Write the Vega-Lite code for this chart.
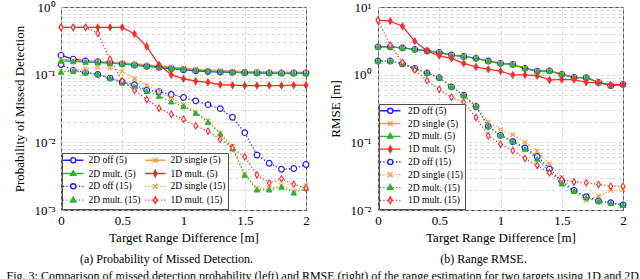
{
"$schema":"https://vega.github.io/schema/vega-lite/v6.json",
"background":"white",
"padding":{"left":6,"top":0,"right":5,"bottom":0},
"spacing":16,
"resolve":{"scale":{"stroke":"independent","fill":"independent","shape":"independent"},"legend":{"stroke":"independent","fill":"independent","shape":"independent"}},
"title":{"text":"Fig. 3: Comparison of missed detection probability (left) and RMSE (right) of the range estimation for two targets using 1D and 2D processing, based on","orient":"bottom","anchor":"start","fontSize":12,"offset":5,"dx":-6},
"config":{
 "font":"Liberation Serif",
 "view":{"stroke":"#505050","strokeWidth":1},
 "axis":{"labelFont":"Liberation Serif","titleFont":"Liberation Serif","labelFontSize":13,"titleFontSize":13,"titleFontWeight":"normal","labelColor":"black","titleColor":"black","gridColor":"#cccccc","gridDash":[3,3],"gridWidth":0.8,"domain":false,"ticks":false,"labelFlush":false,"labelOverlap":false,"labelBound":false},
 "legend":{"labelFont":"Liberation Serif","labelFontSize":9.5,"labelColor":"black","fillColor":"white","strokeColor":"#505050","padding":2,"rowPadding":0.8,"columnPadding":1,"symbolStrokeWidth":1.4,"cornerRadius":0,"symbolOpacity":1,"labelLimit":200},
 "title":{"font":"Liberation Serif","fontWeight":"normal","fontSize":12,"color":"black"}
},
"datasets":{
"pmd":[
{"x":0,"s":"2D off (5)","v":0.193},{"x":0.1,"s":"2D off (5)","v":0.170},{"x":0.2,"s":"2D off (5)","v":0.160},{"x":0.3,"s":"2D off (5)","v":0.155},{"x":0.4,"s":"2D off (5)","v":0.150},{"x":0.5,"s":"2D off (5)","v":0.144},{"x":0.6,"s":"2D off (5)","v":0.139},{"x":0.7,"s":"2D off (5)","v":0.133},{"x":0.8,"s":"2D off (5)","v":0.128},{"x":0.9,"s":"2D off (5)","v":0.123},{"x":1,"s":"2D off (5)","v":0.118},{"x":1.1,"s":"2D off (5)","v":0.114},{"x":1.2,"s":"2D off (5)","v":0.111},{"x":1.3,"s":"2D off (5)","v":0.109},{"x":1.4,"s":"2D off (5)","v":0.108},{"x":1.5,"s":"2D off (5)","v":0.107},{"x":1.6,"s":"2D off (5)","v":0.106},{"x":1.7,"s":"2D off (5)","v":0.106},{"x":1.8,"s":"2D off (5)","v":0.106},{"x":1.9,"s":"2D off (5)","v":0.106},{"x":2,"s":"2D off (5)","v":0.106},
{"x":0,"s":"2D single (5)","v":0.168},{"x":0.1,"s":"2D single (5)","v":0.163},{"x":0.2,"s":"2D single (5)","v":0.159},{"x":0.3,"s":"2D single (5)","v":0.156},{"x":0.4,"s":"2D single (5)","v":0.153},{"x":0.5,"s":"2D single (5)","v":0.149},{"x":0.6,"s":"2D single (5)","v":0.145},{"x":0.7,"s":"2D single (5)","v":0.140},{"x":0.8,"s":"2D single (5)","v":0.135},{"x":0.9,"s":"2D single (5)","v":0.130},{"x":1,"s":"2D single (5)","v":0.125},{"x":1.1,"s":"2D single (5)","v":0.121},{"x":1.2,"s":"2D single (5)","v":0.118},{"x":1.3,"s":"2D single (5)","v":0.116},{"x":1.4,"s":"2D single (5)","v":0.114},{"x":1.5,"s":"2D single (5)","v":0.112},{"x":1.6,"s":"2D single (5)","v":0.111},{"x":1.7,"s":"2D single (5)","v":0.110},{"x":1.8,"s":"2D single (5)","v":0.109},{"x":1.9,"s":"2D single (5)","v":0.109},{"x":2,"s":"2D single (5)","v":0.109},
{"x":0,"s":"2D mult. (5)","v":0.160},{"x":0.1,"s":"2D mult. (5)","v":0.157},{"x":0.2,"s":"2D mult. (5)","v":0.154},{"x":0.3,"s":"2D mult. (5)","v":0.151},{"x":0.4,"s":"2D mult. (5)","v":0.148},{"x":0.5,"s":"2D mult. (5)","v":0.144},{"x":0.6,"s":"2D mult. (5)","v":0.140},{"x":0.7,"s":"2D mult. (5)","v":0.135},{"x":0.8,"s":"2D mult. (5)","v":0.130},{"x":0.9,"s":"2D mult. (5)","v":0.125},{"x":1,"s":"2D mult. (5)","v":0.120},{"x":1.1,"s":"2D mult. (5)","v":0.116},{"x":1.2,"s":"2D mult. (5)","v":0.113},{"x":1.3,"s":"2D mult. (5)","v":0.111},{"x":1.4,"s":"2D mult. (5)","v":0.109},{"x":1.5,"s":"2D mult. (5)","v":0.107},{"x":1.6,"s":"2D mult. (5)","v":0.106},{"x":1.7,"s":"2D mult. (5)","v":0.105},{"x":1.8,"s":"2D mult. (5)","v":0.104},{"x":1.9,"s":"2D mult. (5)","v":0.104},{"x":2,"s":"2D mult. (5)","v":0.104},
{"x":0,"s":"1D mult. (5)","v":0.50},{"x":0.1,"s":"1D mult. (5)","v":0.50},{"x":0.2,"s":"1D mult. (5)","v":0.50},{"x":0.3,"s":"1D mult. (5)","v":0.50},{"x":0.4,"s":"1D mult. (5)","v":0.50},{"x":0.5,"s":"1D mult. (5)","v":0.50},{"x":0.6,"s":"1D mult. (5)","v":0.40},{"x":0.7,"s":"1D mult. (5)","v":0.26},{"x":0.8,"s":"1D mult. (5)","v":0.14},{"x":0.9,"s":"1D mult. (5)","v":0.10},{"x":1,"s":"1D mult. (5)","v":0.087},{"x":1.1,"s":"1D mult. (5)","v":0.080},{"x":1.2,"s":"1D mult. (5)","v":0.077},{"x":1.3,"s":"1D mult. (5)","v":0.071},{"x":1.4,"s":"1D mult. (5)","v":0.070},{"x":1.5,"s":"1D mult. (5)","v":0.069},{"x":1.6,"s":"1D mult. (5)","v":0.069},{"x":1.7,"s":"1D mult. (5)","v":0.069},{"x":1.8,"s":"1D mult. (5)","v":0.069},{"x":1.9,"s":"1D mult. (5)","v":0.070},{"x":2,"s":"1D mult. (5)","v":0.070},
{"x":0,"s":"2D off (15)","v":0.141},{"x":0.1,"s":"2D off (15)","v":0.116},{"x":0.2,"s":"2D off (15)","v":0.108},{"x":0.3,"s":"2D off (15)","v":0.101},{"x":0.4,"s":"2D off (15)","v":0.089},{"x":0.5,"s":"2D off (15)","v":0.078},{"x":0.6,"s":"2D off (15)","v":0.071},{"x":0.7,"s":"2D off (15)","v":0.059},{"x":0.8,"s":"2D off (15)","v":0.056},{"x":0.9,"s":"2D off (15)","v":0.051},{"x":1,"s":"2D off (15)","v":0.046},{"x":1.1,"s":"2D off (15)","v":0.041},{"x":1.2,"s":"2D off (15)","v":0.036},{"x":1.3,"s":"2D off (15)","v":0.0315},{"x":1.4,"s":"2D off (15)","v":0.0235},{"x":1.5,"s":"2D off (15)","v":0.0139},{"x":1.6,"s":"2D off (15)","v":0.0065},{"x":1.7,"s":"2D off (15)","v":0.0049},{"x":1.8,"s":"2D off (15)","v":0.0040},{"x":1.9,"s":"2D off (15)","v":0.0041},{"x":2,"s":"2D off (15)","v":0.0047},
{"x":0,"s":"2D single (15)","v":0.113},{"x":0.1,"s":"2D single (15)","v":0.115},{"x":0.2,"s":"2D single (15)","v":0.123},{"x":0.3,"s":"2D single (15)","v":0.127},{"x":0.4,"s":"2D single (15)","v":0.125},{"x":0.5,"s":"2D single (15)","v":0.112},{"x":0.6,"s":"2D single (15)","v":0.087},{"x":0.7,"s":"2D single (15)","v":0.070},{"x":0.8,"s":"2D single (15)","v":0.057},{"x":0.9,"s":"2D single (15)","v":0.046},{"x":1,"s":"2D single (15)","v":0.036},{"x":1.1,"s":"2D single (15)","v":0.028},{"x":1.2,"s":"2D single (15)","v":0.021},{"x":1.3,"s":"2D single (15)","v":0.0138},{"x":1.4,"s":"2D single (15)","v":0.0088},{"x":1.5,"s":"2D single (15)","v":0.0034},{"x":1.6,"s":"2D single (15)","v":0.0021},{"x":1.7,"s":"2D single (15)","v":0.0021},{"x":1.8,"s":"2D single (15)","v":0.0023},{"x":1.9,"s":"2D single (15)","v":0.0019},{"x":2,"s":"2D single (15)","v":0.0023},
{"x":0,"s":"2D mult. (15)","v":0.110},{"x":0.1,"s":"2D mult. (15)","v":0.113},{"x":0.2,"s":"2D mult. (15)","v":0.107},{"x":0.3,"s":"2D mult. (15)","v":0.101},{"x":0.4,"s":"2D mult. (15)","v":0.089},{"x":0.5,"s":"2D mult. (15)","v":0.076},{"x":0.6,"s":"2D mult. (15)","v":0.067},{"x":0.7,"s":"2D mult. (15)","v":0.057},{"x":0.8,"s":"2D mult. (15)","v":0.0485},{"x":0.9,"s":"2D mult. (15)","v":0.040},{"x":1,"s":"2D mult. (15)","v":0.034},{"x":1.1,"s":"2D mult. (15)","v":0.0272},{"x":1.2,"s":"2D mult. (15)","v":0.020},{"x":1.3,"s":"2D mult. (15)","v":0.0134},{"x":1.4,"s":"2D mult. (15)","v":0.0081},{"x":1.5,"s":"2D mult. (15)","v":0.0033},{"x":1.6,"s":"2D mult. (15)","v":0.0020},{"x":1.7,"s":"2D mult. (15)","v":0.0020},{"x":1.8,"s":"2D mult. (15)","v":0.0022},{"x":1.9,"s":"2D mult. (15)","v":0.0018},{"x":2,"s":"2D mult. (15)","v":0.0021},
{"x":0,"s":"1D mult. (15)","v":0.50},{"x":0.1,"s":"1D mult. (15)","v":0.50},{"x":0.2,"s":"1D mult. (15)","v":0.50},{"x":0.3,"s":"1D mult. (15)","v":0.41},{"x":0.4,"s":"1D mult. (15)","v":0.169},{"x":0.5,"s":"1D mult. (15)","v":0.081},{"x":0.6,"s":"1D mult. (15)","v":0.059},{"x":0.7,"s":"1D mult. (15)","v":0.043},{"x":0.8,"s":"1D mult. (15)","v":0.032},{"x":0.9,"s":"1D mult. (15)","v":0.026},{"x":1,"s":"1D mult. (15)","v":0.022},{"x":1.1,"s":"1D mult. (15)","v":0.0175},{"x":1.2,"s":"1D mult. (15)","v":0.0146},{"x":1.3,"s":"1D mult. (15)","v":0.0111},{"x":1.4,"s":"1D mult. (15)","v":0.0083},{"x":1.5,"s":"1D mult. (15)","v":0.0061},{"x":1.6,"s":"1D mult. (15)","v":0.0033},{"x":1.7,"s":"1D mult. (15)","v":0.0025},{"x":1.8,"s":"1D mult. (15)","v":0.0029},{"x":1.9,"s":"1D mult. (15)","v":0.0024},{"x":2,"s":"1D mult. (15)","v":0.0021}
],
"rmse":[
{"x":0,"s":"2D off (5)","v":2.58},{"x":0.1,"s":"2D off (5)","v":2.58},{"x":0.2,"s":"2D off (5)","v":2.49},{"x":0.3,"s":"2D off (5)","v":2.36},{"x":0.4,"s":"2D off (5)","v":2.25},{"x":0.5,"s":"2D off (5)","v":2.13},{"x":0.6,"s":"2D off (5)","v":1.95},{"x":0.7,"s":"2D off (5)","v":1.86},{"x":0.8,"s":"2D off (5)","v":1.74},{"x":0.9,"s":"2D off (5)","v":1.59},{"x":1,"s":"2D off (5)","v":1.47},{"x":1.1,"s":"2D off (5)","v":1.42},{"x":1.2,"s":"2D off (5)","v":1.24},{"x":1.3,"s":"2D off (5)","v":1.13},{"x":1.4,"s":"2D off (5)","v":1.14},{"x":1.5,"s":"2D off (5)","v":1.01},{"x":1.6,"s":"2D off (5)","v":0.91},{"x":1.7,"s":"2D off (5)","v":0.90},{"x":1.8,"s":"2D off (5)","v":0.77},{"x":1.9,"s":"2D off (5)","v":0.69},{"x":2,"s":"2D off (5)","v":0.72},
{"x":0,"s":"2D single (5)","v":2.58},{"x":0.1,"s":"2D single (5)","v":2.58},{"x":0.2,"s":"2D single (5)","v":2.49},{"x":0.3,"s":"2D single (5)","v":2.36},{"x":0.4,"s":"2D single (5)","v":2.25},{"x":0.5,"s":"2D single (5)","v":2.13},{"x":0.6,"s":"2D single (5)","v":1.95},{"x":0.7,"s":"2D single (5)","v":1.86},{"x":0.8,"s":"2D single (5)","v":1.74},{"x":0.9,"s":"2D single (5)","v":1.59},{"x":1,"s":"2D single (5)","v":1.47},{"x":1.1,"s":"2D single (5)","v":1.42},{"x":1.2,"s":"2D single (5)","v":1.24},{"x":1.3,"s":"2D single (5)","v":1.13},{"x":1.4,"s":"2D single (5)","v":1.14},{"x":1.5,"s":"2D single (5)","v":1.01},{"x":1.6,"s":"2D single (5)","v":0.91},{"x":1.7,"s":"2D single (5)","v":0.90},{"x":1.8,"s":"2D single (5)","v":0.77},{"x":1.9,"s":"2D single (5)","v":0.69},{"x":2,"s":"2D single (5)","v":0.72},
{"x":0,"s":"2D mult. (5)","v":2.58},{"x":0.1,"s":"2D mult. (5)","v":2.58},{"x":0.2,"s":"2D mult. (5)","v":2.49},{"x":0.3,"s":"2D mult. (5)","v":2.36},{"x":0.4,"s":"2D mult. (5)","v":2.25},{"x":0.5,"s":"2D mult. (5)","v":2.13},{"x":0.6,"s":"2D mult. (5)","v":1.95},{"x":0.7,"s":"2D mult. (5)","v":1.86},{"x":0.8,"s":"2D mult. (5)","v":1.74},{"x":0.9,"s":"2D mult. (5)","v":1.59},{"x":1,"s":"2D mult. (5)","v":1.47},{"x":1.1,"s":"2D mult. (5)","v":1.42},{"x":1.2,"s":"2D mult. (5)","v":1.24},{"x":1.3,"s":"2D mult. (5)","v":1.13},{"x":1.4,"s":"2D mult. (5)","v":1.14},{"x":1.5,"s":"2D mult. (5)","v":1.01},{"x":1.6,"s":"2D mult. (5)","v":0.91},{"x":1.7,"s":"2D mult. (5)","v":0.90},{"x":1.8,"s":"2D mult. (5)","v":0.77},{"x":1.9,"s":"2D mult. (5)","v":0.69},{"x":2,"s":"2D mult. (5)","v":0.72},
{"x":0,"s":"1D mult. (5)","v":6.37},{"x":0.1,"s":"1D mult. (5)","v":6.2},{"x":0.2,"s":"1D mult. (5)","v":5.2},{"x":0.3,"s":"1D mult. (5)","v":3.13},{"x":0.4,"s":"1D mult. (5)","v":2.25},{"x":0.5,"s":"1D mult. (5)","v":1.90},{"x":0.6,"s":"1D mult. (5)","v":1.74},{"x":0.7,"s":"1D mult. (5)","v":1.47},{"x":0.8,"s":"1D mult. (5)","v":1.30},{"x":0.9,"s":"1D mult. (5)","v":1.20},{"x":1,"s":"1D mult. (5)","v":1.13},{"x":1.1,"s":"1D mult. (5)","v":0.99},{"x":1.2,"s":"1D mult. (5)","v":0.99},{"x":1.3,"s":"1D mult. (5)","v":0.967},{"x":1.4,"s":"1D mult. (5)","v":0.835},{"x":1.5,"s":"1D mult. (5)","v":0.845},{"x":1.6,"s":"1D mult. (5)","v":0.845},{"x":1.7,"s":"1D mult. (5)","v":0.77},{"x":1.8,"s":"1D mult. (5)","v":0.76},{"x":1.9,"s":"1D mult. (5)","v":0.71},{"x":2,"s":"1D mult. (5)","v":0.71},
{"x":0,"s":"2D off (15)","v":1.59},{"x":0.1,"s":"2D off (15)","v":1.59},{"x":0.2,"s":"2D off (15)","v":1.45},{"x":0.3,"s":"2D off (15)","v":1.24},{"x":0.4,"s":"2D off (15)","v":1.06},{"x":0.5,"s":"2D off (15)","v":0.904},{"x":0.6,"s":"2D off (15)","v":0.66},{"x":0.7,"s":"2D off (15)","v":0.497},{"x":0.8,"s":"2D off (15)","v":0.339},{"x":0.9,"s":"2D off (15)","v":0.172},{"x":1,"s":"2D off (15)","v":0.127},{"x":1.1,"s":"2D off (15)","v":0.103},{"x":1.2,"s":"2D off (15)","v":0.0825},{"x":1.3,"s":"2D off (15)","v":0.062},{"x":1.4,"s":"2D off (15)","v":0.0405},{"x":1.5,"s":"2D off (15)","v":0.0267},{"x":1.6,"s":"2D off (15)","v":0.0195},{"x":1.7,"s":"2D off (15)","v":0.0157},{"x":1.8,"s":"2D off (15)","v":0.0136},{"x":1.9,"s":"2D off (15)","v":0.0128},{"x":2,"s":"2D off (15)","v":0.0119},
{"x":0,"s":"2D single (15)","v":1.59},{"x":0.1,"s":"2D single (15)","v":1.59},{"x":0.2,"s":"2D single (15)","v":1.45},{"x":0.3,"s":"2D single (15)","v":1.24},{"x":0.4,"s":"2D single (15)","v":1.06},{"x":0.5,"s":"2D single (15)","v":0.904},{"x":0.6,"s":"2D single (15)","v":0.66},{"x":0.7,"s":"2D single (15)","v":0.497},{"x":0.8,"s":"2D single (15)","v":0.35},{"x":0.9,"s":"2D single (15)","v":0.2},{"x":1,"s":"2D single (15)","v":0.155},{"x":1.1,"s":"2D single (15)","v":0.130},{"x":1.2,"s":"2D single (15)","v":0.101},{"x":1.3,"s":"2D single (15)","v":0.0738},{"x":1.4,"s":"2D single (15)","v":0.048},{"x":1.5,"s":"2D single (15)","v":0.0306},{"x":1.6,"s":"2D single (15)","v":0.0184},{"x":1.7,"s":"2D single (15)","v":0.0139},{"x":1.8,"s":"2D single (15)","v":0.0161},{"x":1.9,"s":"2D single (15)","v":0.0195},{"x":2,"s":"2D single (15)","v":0.0201},
{"x":0,"s":"2D mult. (15)","v":1.59},{"x":0.1,"s":"2D mult. (15)","v":1.59},{"x":0.2,"s":"2D mult. (15)","v":1.45},{"x":0.3,"s":"2D mult. (15)","v":1.24},{"x":0.4,"s":"2D mult. (15)","v":1.06},{"x":0.5,"s":"2D mult. (15)","v":0.904},{"x":0.6,"s":"2D mult. (15)","v":0.66},{"x":0.7,"s":"2D mult. (15)","v":0.497},{"x":0.8,"s":"2D mult. (15)","v":0.339},{"x":0.9,"s":"2D mult. (15)","v":0.172},{"x":1,"s":"2D mult. (15)","v":0.127},{"x":1.1,"s":"2D mult. (15)","v":0.103},{"x":1.2,"s":"2D mult. (15)","v":0.080},{"x":1.3,"s":"2D mult. (15)","v":0.057},{"x":1.4,"s":"2D mult. (15)","v":0.037},{"x":1.5,"s":"2D mult. (15)","v":0.0245},{"x":1.6,"s":"2D mult. (15)","v":0.019},{"x":1.7,"s":"2D mult. (15)","v":0.0152},{"x":1.8,"s":"2D mult. (15)","v":0.0135},{"x":1.9,"s":"2D mult. (15)","v":0.0127},{"x":2,"s":"2D mult. (15)","v":0.0118},
{"x":0,"s":"1D mult. (15)","v":6.37},{"x":0.1,"s":"1D mult. (15)","v":2.73},{"x":0.2,"s":"1D mult. (15)","v":1.52},{"x":0.3,"s":"1D mult. (15)","v":1.17},{"x":0.4,"s":"1D mult. (15)","v":0.817},{"x":0.5,"s":"1D mult. (15)","v":0.61},{"x":0.6,"s":"1D mult. (15)","v":0.464},{"x":0.7,"s":"1D mult. (15)","v":0.392},{"x":0.8,"s":"1D mult. (15)","v":0.233},{"x":0.9,"s":"1D mult. (15)","v":0.125},{"x":1,"s":"1D mult. (15)","v":0.094},{"x":1.1,"s":"1D mult. (15)","v":0.0756},{"x":1.2,"s":"1D mult. (15)","v":0.0576},{"x":1.3,"s":"1D mult. (15)","v":0.0454},{"x":1.4,"s":"1D mult. (15)","v":0.0354},{"x":1.5,"s":"1D mult. (15)","v":0.0283},{"x":1.6,"s":"1D mult. (15)","v":0.026},{"x":1.7,"s":"1D mult. (15)","v":0.0252},{"x":1.8,"s":"1D mult. (15)","v":0.0239},{"x":1.9,"s":"1D mult. (15)","v":0.0225},{"x":2,"s":"1D mult. (15)","v":0.0225}
]
},
"hconcat":[
{
 "width":245,"height":203,
 "data":{"name":"pmd"},
 "title":{"text":"(a) Probability of Missed Detection.","orient":"bottom","frame":"group","anchor":"middle","dx":-17,"offset":10},
 "encoding":{
  "x":{"field":"x","type":"quantitative","scale":{"domain":[0,2],"nice":false,"zero":false},"axis":{"title":"Target Range Difference [m]","values":[0,0.5,1,1.5,2],"format":"~g","labelPadding":4,"titlePadding":4}},
  "y":{"field":"v","type":"quantitative","scale":{"type":"log","domain":[0.001,1],"nice":false},"axis":{"title":"Probability of Missed Detection","values":[0.001,0.002,0.003,0.004,0.005,0.006,0.007,0.008,0.009,0.01,0.02,0.03,0.04,0.05,0.06,0.07,0.08,0.09,0.1,0.2,0.3,0.4,0.5,0.6,0.7,0.8,0.9,1],"labelExpr":"abs(log(datum.value)/LN10 - round(log(datum.value)/LN10)) < 0.0001 ? '10' + replace(replace(replace(replace(replace(replace('' + round(log(datum.value)/LN10), '-', '⁻'), '0', '⁰'), '1', '¹'), '2', '²'), '3', '³'), '4', '⁴') : ''","labelPadding":6,"titlePadding":8}}
 },
 "layer":[
  {"transform":[{"filter":{"field":"s","oneOf":["2D off (5)","2D single (5)","2D mult. (5)","1D mult. (5)"]}}],"mark":{"type":"line","strokeWidth":1.3},"encoding":{
    "stroke":{"field":"s","type":"nominal","scale":{"domain":["2D off (5)","2D single (5)","2D mult. (5)","1D mult. (5)","2D off (15)","2D single (15)","2D mult. (15)","1D mult. (15)"],"range":["#2020ff","#ff9a3c","#30b030","#ff2a2a","#2020ff","#ff9a3c","#30b030","#ff2a2a"]}}}},
  {"transform":[{"filter":{"field":"s","oneOf":["2D off (15)","2D single (15)","2D mult. (15)","1D mult. (15)"]}}],"mark":{"type":"line","strokeWidth":1.3,"strokeDash":[1.2,2.2]},"encoding":{
    "stroke":{"field":"s","type":"nominal"}}},
  {"transform":[{"filter":{"field":"s","oneOf":["2D off (5)","2D off (15)"]}}],"mark":{"type":"point","shape":"circle","size":32,"strokeWidth":1.2,"opacity":1},"encoding":{
    "stroke":{"field":"s","type":"nominal"},
    "fill":{"field":"s","type":"nominal","scale":{"domain":["2D off (5)","2D single (5)","2D mult. (5)","1D mult. (5)","2D off (15)","2D single (15)","2D mult. (15)","1D mult. (15)"],"range":["white","#ff9a3c","#30b030","#ff2a2a","white","#ff9a3c","#30b030","white"]}}}},
  {"transform":[{"filter":{"field":"s","oneOf":["2D single (5)","2D single (15)"]}}],"mark":{"type":"point","shape":"M-1,-1L1,1M-1,1L1,-1","size":20,"strokeWidth":1.2,"opacity":1},"encoding":{
    "stroke":{"field":"s","type":"nominal"},
    "fill":{"field":"s","type":"nominal"}}},
  {"transform":[{"filter":{"field":"s","oneOf":["2D mult. (5)","2D mult. (15)"]}}],"mark":{"type":"point","shape":"triangle-up","size":30,"strokeWidth":1,"opacity":1},"encoding":{
    "stroke":{"field":"s","type":"nominal"},
    "fill":{"field":"s","type":"nominal"}}},
  {"transform":[{"filter":{"field":"s","oneOf":["1D mult. (5)","1D mult. (15)"]}}],"mark":{"type":"point","shape":"M0,-1L0.6,0L0,1L-0.6,0Z","size":40,"strokeWidth":1.1,"opacity":1},"encoding":{
    "stroke":{"field":"s","type":"nominal"},
    "fill":{"field":"s","type":"nominal"}}},
  {"transform":[{"filter":"datum.x < 0"}],"mark":{"type":"point","opacity":1},"encoding":{
    "stroke":{"field":"s","type":"nominal","legend":{"title":null,"orient":"bottom-left","offset":1,"columns":2,"direction":"horizontal","symbolSize":36,"symbolOffset":4.5,"labelOffset":10.5}},
    "fill":{"field":"s","type":"nominal","legend":{"title":null,"orient":"bottom-left","offset":1,"columns":2,"direction":"horizontal","symbolSize":36,"symbolOffset":4.5,"labelOffset":10.5}},
    "shape":{"field":"s","type":"nominal","scale":{"domain":["2D off (5)","2D single (5)","2D mult. (5)","1D mult. (5)","2D off (15)","2D single (15)","2D mult. (15)","1D mult. (15)"],"range":[
      "M-3.4,0H-0.85M0.85,0H3.4M-0.85,0A0.85,0.85 0 1,0 0.85,0A0.85,0.85 0 1,0 -0.85,0Z",
      "M-3.4,0H3.4M-0.8,-0.8L0.8,0.8M-0.8,0.8L0.8,-0.8",
      "M-3.4,0H3.4M0,-1L0.9,0.6L-0.9,0.6Z",
      "M-3.4,0H3.4M0,-1.1L0.6,0L0,1.1L-0.6,0Z",
      "M-3.4,0H-3M-2.3,0H-1.9M-1.2,0H-0.85M0.85,0H1.2M1.9,0H2.3M3,0H3.4M-0.85,0A0.85,0.85 0 1,0 0.85,0A0.85,0.85 0 1,0 -0.85,0Z",
      "M-3.4,0H-3M-2.3,0H-1.9M-1.2,0H-0.9M0.9,0H1.2M1.9,0H2.3M3,0H3.4M-0.8,-0.8L0.8,0.8M-0.8,0.8L0.8,-0.8",
      "M-3.4,0H-3M-2.3,0H-1.9M-1.2,0H-0.9M0.9,0H1.2M1.9,0H2.3M3,0H3.4M0,-1L0.9,0.6L-0.9,0.6Z",
      "M-3.4,0H-3M-2.3,0H-1.9M-1.2,0H-0.6M0.6,0H1.2M1.9,0H2.3M3,0H3.4M0,-1.1L0.6,0L0,1.1L-0.6,0Z"]},"legend":{"title":null,"orient":"bottom-left","offset":1,"columns":2,"direction":"horizontal","symbolSize":36,"symbolOffset":4.5,"labelOffset":10.5}}}}
 ]
},
{
 "width":245,"height":203,
 "data":{"name":"rmse"},
 "title":{"text":"(b) Range RMSE.","orient":"bottom","frame":"group","anchor":"middle","dx":-17,"offset":10},
 "encoding":{
  "x":{"field":"x","type":"quantitative","scale":{"domain":[0,2],"nice":false,"zero":false},"axis":{"title":"Target Range Difference [m]","values":[0,0.5,1,1.5,2],"format":"~g","labelPadding":4,"titlePadding":4}},
  "y":{"field":"v","type":"quantitative","scale":{"type":"log","domain":[0.01,10],"nice":false},"axis":{"title":"RMSE [m]","values":[0.01,0.02,0.03,0.04,0.05,0.06,0.07,0.08,0.09,0.1,0.2,0.3,0.4,0.5,0.6,0.7,0.8,0.9,1,2,3,4,5,6,7,8,9,10],"labelExpr":"abs(log(datum.value)/LN10 - round(log(datum.value)/LN10)) < 0.0001 ? '10' + replace(replace(replace(replace(replace(replace('' + round(log(datum.value)/LN10), '-', '⁻'), '0', '⁰'), '1', '¹'), '2', '²'), '3', '³'), '4', '⁴') : ''","labelPadding":7,"titlePadding":8}}
 },
 "layer":[
  {"transform":[{"filter":{"field":"s","oneOf":["2D off (5)","2D single (5)","2D mult. (5)","1D mult. (5)"]}}],"mark":{"type":"line","strokeWidth":1.3},"encoding":{
    "stroke":{"field":"s","type":"nominal","scale":{"domain":["2D off (5)","2D single (5)","2D mult. (5)","1D mult. (5)","2D off (15)","2D single (15)","2D mult. (15)","1D mult. (15)"],"range":["#2020ff","#ff9a3c","#30b030","#ff2a2a","#2020ff","#ff9a3c","#30b030","#ff2a2a"]}}}},
  {"transform":[{"filter":{"field":"s","oneOf":["2D off (15)","2D single (15)","2D mult. (15)","1D mult. (15)"]}}],"mark":{"type":"line","strokeWidth":1.3,"strokeDash":[1.2,2.2]},"encoding":{
    "stroke":{"field":"s","type":"nominal"}}},
  {"transform":[{"filter":{"field":"s","oneOf":["2D off (5)","2D off (15)"]}}],"mark":{"type":"point","shape":"circle","size":32,"strokeWidth":1.2,"opacity":1},"encoding":{
    "stroke":{"field":"s","type":"nominal"},
    "fill":{"field":"s","type":"nominal","scale":{"domain":["2D off (5)","2D single (5)","2D mult. (5)","1D mult. (5)","2D off (15)","2D single (15)","2D mult. (15)","1D mult. (15)"],"range":["white","#ff9a3c","#30b030","#ff2a2a","white","#ff9a3c","#30b030","white"]}}}},
  {"transform":[{"filter":{"field":"s","oneOf":["2D single (5)","2D single (15)"]}}],"mark":{"type":"point","shape":"M-1,-1L1,1M-1,1L1,-1","size":20,"strokeWidth":1.2,"opacity":1},"encoding":{
    "stroke":{"field":"s","type":"nominal"},
    "fill":{"field":"s","type":"nominal"}}},
  {"transform":[{"filter":{"field":"s","oneOf":["2D mult. (5)","2D mult. (15)"]}}],"mark":{"type":"point","shape":"triangle-up","size":30,"strokeWidth":1,"opacity":1},"encoding":{
    "stroke":{"field":"s","type":"nominal"},
    "fill":{"field":"s","type":"nominal"}}},
  {"transform":[{"filter":{"field":"s","oneOf":["1D mult. (5)","1D mult. (15)"]}}],"mark":{"type":"point","shape":"M0,-1L0.6,0L0,1L-0.6,0Z","size":40,"strokeWidth":1.1,"opacity":1},"encoding":{
    "stroke":{"field":"s","type":"nominal"},
    "fill":{"field":"s","type":"nominal"}}},
  {"transform":[{"filter":"datum.x < 0"}],"mark":{"type":"point","opacity":1},"encoding":{
    "stroke":{"field":"s","type":"nominal","legend":{"title":null,"orient":"bottom-left","offset":1,"columns":1,"symbolSize":36,"symbolOffset":4.5,"labelOffset":13}},
    "fill":{"field":"s","type":"nominal","legend":{"title":null,"orient":"bottom-left","offset":1,"columns":1,"symbolSize":36,"symbolOffset":4.5,"labelOffset":13}},
    "shape":{"field":"s","type":"nominal","scale":{"domain":["2D off (5)","2D single (5)","2D mult. (5)","1D mult. (5)","2D off (15)","2D single (15)","2D mult. (15)","1D mult. (15)"],"range":[
      "M-3.4,0H-0.85M0.85,0H3.4M-0.85,0A0.85,0.85 0 1,0 0.85,0A0.85,0.85 0 1,0 -0.85,0Z",
      "M-3.4,0H3.4M-0.8,-0.8L0.8,0.8M-0.8,0.8L0.8,-0.8",
      "M-3.4,0H3.4M0,-1L0.9,0.6L-0.9,0.6Z",
      "M-3.4,0H3.4M0,-1.1L0.6,0L0,1.1L-0.6,0Z",
      "M-3.4,0H-3M-2.3,0H-1.9M-1.2,0H-0.85M0.85,0H1.2M1.9,0H2.3M3,0H3.4M-0.85,0A0.85,0.85 0 1,0 0.85,0A0.85,0.85 0 1,0 -0.85,0Z",
      "M-3.4,0H-3M-2.3,0H-1.9M-1.2,0H-0.9M0.9,0H1.2M1.9,0H2.3M3,0H3.4M-0.8,-0.8L0.8,0.8M-0.8,0.8L0.8,-0.8",
      "M-3.4,0H-3M-2.3,0H-1.9M-1.2,0H-0.9M0.9,0H1.2M1.9,0H2.3M3,0H3.4M0,-1L0.9,0.6L-0.9,0.6Z",
      "M-3.4,0H-3M-2.3,0H-1.9M-1.2,0H-0.6M0.6,0H1.2M1.9,0H2.3M3,0H3.4M0,-1.1L0.6,0L0,1.1L-0.6,0Z"]},"legend":{"title":null,"orient":"bottom-left","offset":1,"columns":1,"symbolSize":36,"symbolOffset":4.5,"labelOffset":13}}}}
 ]
}
]
}
